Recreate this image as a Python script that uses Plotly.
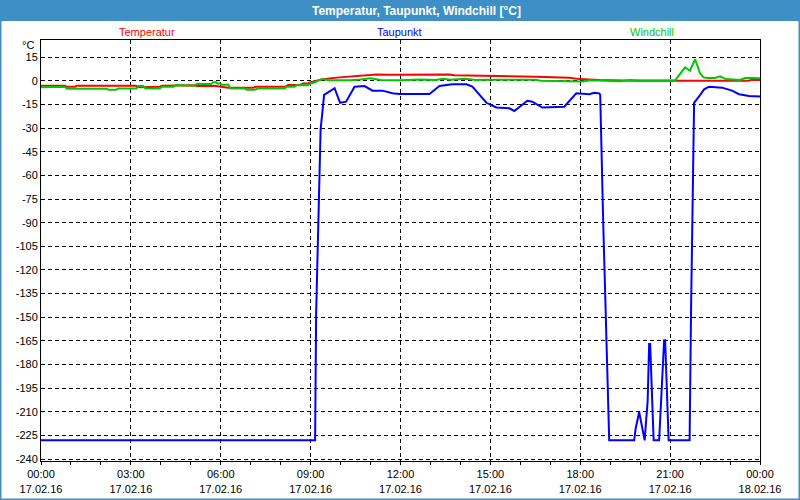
import pandas as pd
import plotly.graph_objects as go

# ---------------- data (minutes after 17.02.16 00:00, values in °C) ----------------
temp_minutes = [0, 48, 52, 68, 72, 190, 198, 205, 211, 238, 242, 265, 270, 308, 312, 350,
                375, 425, 430, 490, 495, 520, 525, 535, 540, 564, 598, 638, 672, 698, 798,
                818, 828, 904, 912, 992, 1058, 1078, 1118, 1192, 1418, 1422, 1440]
temp_values = [-3.2, -3.2, -3.8, -3.8, -3.2, -3.2, -4.2, -4.2, -3.8, -3.8, -3.2, -3.2, -2.9, -2.9, -3.4, -3.4,
               -4.4, -4.4, -3.8, -3.8, -2.7, -2.7, -1.7, -1.7, -1.0, 1.0, 2.1, 3.0, 4.0, 3.8, 4.3,
               4.0, 3.5, 3.4, 3.0, 2.5, 1.8, 1.0, 0.4, 0.0, 0.0, 0.5, 0.5]

dew_minutes = [0, 549, 551, 556, 560, 567, 578, 588, 599, 611, 628, 648, 664, 684, 704, 718,
               778, 798, 824, 852, 864, 892, 912, 938, 948, 974, 984, 1004, 1048, 1072, 1098,
               1108, 1118, 1120, 1126, 1132, 1138, 1188, 1191, 1198, 1201, 1209, 1212, 1215,
               1217, 1218, 1220, 1227, 1238, 1245, 1248, 1250, 1257, 1299, 1300, 1302, 1304,
               1306, 1308, 1318, 1328, 1338, 1364, 1384, 1398, 1418, 1428, 1440]
dew_values = [-228, -228, -148, -76, -31, -9, -7, -4.8, -14, -13.3, -3.8, -3.4, -6.3, -6.3, -8, -8.4,
              -8.4, -3.4, -2.3, -2.3, -3.8, -14, -17, -17.5, -19.2, -12.7, -13.3, -17, -16.5, -8, -8.6,
              -7.6, -8, -9, -90, -165, -228, -228, -220.5, -210, -215, -228, -215, -203,
              -179, -167, -167, -228, -228, -179, -164.5, -164.5, -228, -228, -185, -143, -101,
              -57, -14, -10, -5.5, -3.8, -4.4, -6.3, -8.6, -9.7, -10, -10]

chill_minutes = [0, 28, 30, 48, 52, 131, 135, 151, 155, 191, 195, 205, 209, 238, 242, 265,
                 270, 288, 292, 308, 312, 341, 345, 351, 354, 358, 362, 375, 380, 408, 412, 428,
                 435, 488, 492, 508, 512, 535, 540, 548, 556, 566, 575, 620, 640, 660, 680, 720,
                 760, 790, 805, 820, 850, 870, 900, 960, 990, 1000, 1070, 1085, 1100, 1130, 1160,
                 1180, 1200, 1270, 1280, 1290, 1300, 1310, 1320, 1327, 1335, 1350, 1360, 1372,
                 1400, 1410, 1425, 1440]
chill_values = [-4.2, -4.2, -3.8, -3.8, -5.1, -5.1, -5.7, -5.7, -4.9, -4.9, -3.4, -3.4, -4.9, -4.9, -3.8, -3.8,
                -2.8, -2.8, -3.2, -3.2, -2.1, -2.1, -1.0, -1.0, -1.7, -1.7, -2.5, -2.5, -4.9, -4.9, -5.7, -5.7,
                -4.9, -4.9, -3.8, -3.8, -2.9, -2.9, -1.7, -1.2, 0.3, 1.1, 0.3, 0.3, 0.8, 1.5, 0.5, 0.3,
                0.8, 0.4, 1.3, 0.6, 1.2, 0.4, 0.6, 0.3, 0.6, 0.0, -0.6, -0.5, 0.3, 0.2, -0.3,
                0.5, 0.2, 0.2, 4.7, 8.5, 6.3, 13.6, 4.7, 2.1, 1.7, 1.7, 2.8, 1.0,
                0.5, 1.7, 1.7, 1.5]

series_names = ["Temperatur", "Taupunkt", "Windchill"]
series_colors = ["#ff0000", "#0000ff", "#00c800"]

x_tick_hours = [0, 3, 6, 9, 12, 15, 18, 21, 24]
x_tick_labels = ["00:00<br>17.02.16", "03:00<br>17.02.16", "06:00<br>17.02.16",
                 "09:00<br>17.02.16", "12:00<br>17.02.16", "15:00<br>17.02.16",
                 "18:00<br>17.02.16", "21:00<br>17.02.16", "00:00<br>18.02.16"]
y_ticks = [15, 0, -15, -30, -45, -60, -75, -90, -105, -120, -135, -150, -165, -180,
           -195, -210, -225, -240]

title_text = "Temperatur, Taupunkt, Windchill [°C]"
unit_text = "°C"

# ---------------- figure ----------------
start = pd.Timestamp("2016-02-17 00:00")


def to_time(mins):
    return [start + pd.Timedelta(minutes=m) for m in mins]


W, H = 800, 500
ML, MR, MT, MB = 41, 40, 40, 39
PW, PH = W - ML - MR, H - MT - MB


def px2x(px):
    return (px - ML) / PW


def px2y(py):
    return (H - MB - py) / PH


fig = go.Figure()
for mins, vals, name, col in [(temp_minutes, temp_values, series_names[0], series_colors[0]),
                              (dew_minutes, dew_values, series_names[1], series_colors[1]),
                              (chill_minutes, chill_values, series_names[2], series_colors[2])]:
    fig.add_trace(go.Scatter(x=to_time(mins), y=vals, mode="lines", name=name,
                             line=dict(color=col, width=2), hoverinfo="skip"))

grid_dash = "4px,3px"
fig.update_layout(
    width=W, height=H, autosize=False,
    margin=dict(l=ML, r=MR, t=MT, b=MB, pad=0),
    paper_bgcolor="white", plot_bgcolor="white",
    showlegend=False,
    font=dict(family="Liberation Sans, Arial, sans-serif", size=11, color="black"),
    xaxis=dict(
        type="date", automargin=False,
        range=[start, start + pd.Timedelta(hours=24)],
        tickmode="array",
        tickvals=[start + pd.Timedelta(hours=h) for h in x_tick_hours],
        ticktext=x_tick_labels,
        ticks="outside", ticklen=3, tickcolor="black", tickwidth=1,
        showgrid=True, gridcolor="black", gridwidth=1, griddash=grid_dash,
        showline=True, linecolor="black", linewidth=1, mirror=True,
        zeroline=False,
        minor=dict(tickmode="array",
                   tickvals=[start + pd.Timedelta(hours=h) for h in range(25)],
                   ticks="outside", ticklen=3, tickcolor="black", showgrid=False),
    ),
    yaxis=dict(
        automargin=False,
        range=[-241.1, 25.8],
        tickmode="array", tickvals=y_ticks,
        ticktext=[str(v) for v in y_ticks],
        ticks="",
        showgrid=True, gridcolor="black", gridwidth=1, griddash=grid_dash,
        showline=True, linecolor="black", linewidth=1, mirror=True,
        zeroline=False,
    ),
)

# window frame: title bar and border
fig.add_shape(type="rect", xref="paper", yref="paper",
              x0=px2x(0), x1=px2x(800), y0=px2y(21), y1=px2y(0),
              fillcolor="#3d8fc6", line=dict(width=0), layer="above")
fig.add_shape(type="rect", xref="paper", yref="paper",
              x0=px2x(0), x1=px2x(800), y0=px2y(500), y1=px2y(0),
              fillcolor="rgba(0,0,0,0)", line=dict(color="#3d8fc6", width=3), layer="above")

fig.add_annotation(text="<b>" + title_text + "</b>", xref="paper", yref="paper",
                   x=px2x(416), y=px2y(10.5), showarrow=False,
                   font=dict(family="Liberation Sans, Arial, sans-serif", size=12, color="white"),
                   xanchor="center", yanchor="middle")

label_px = [147, 399, 652]
for name, col, px in zip(series_names, series_colors, label_px):
    fig.add_annotation(text=name, xref="paper", yref="paper", x=px2x(px), y=px2y(32.3),
                       showarrow=False, font=dict(color=col, size=11),
                       xanchor="center", yanchor="middle")

fig.add_annotation(text=unit_text, xref="paper", yref="paper", x=px2x(36), y=px2y(45),
                   showarrow=False, font=dict(color="black", size=11),
                   xanchor="right", yanchor="middle")

fig.write_html("out.html", config={"responsive": False})
